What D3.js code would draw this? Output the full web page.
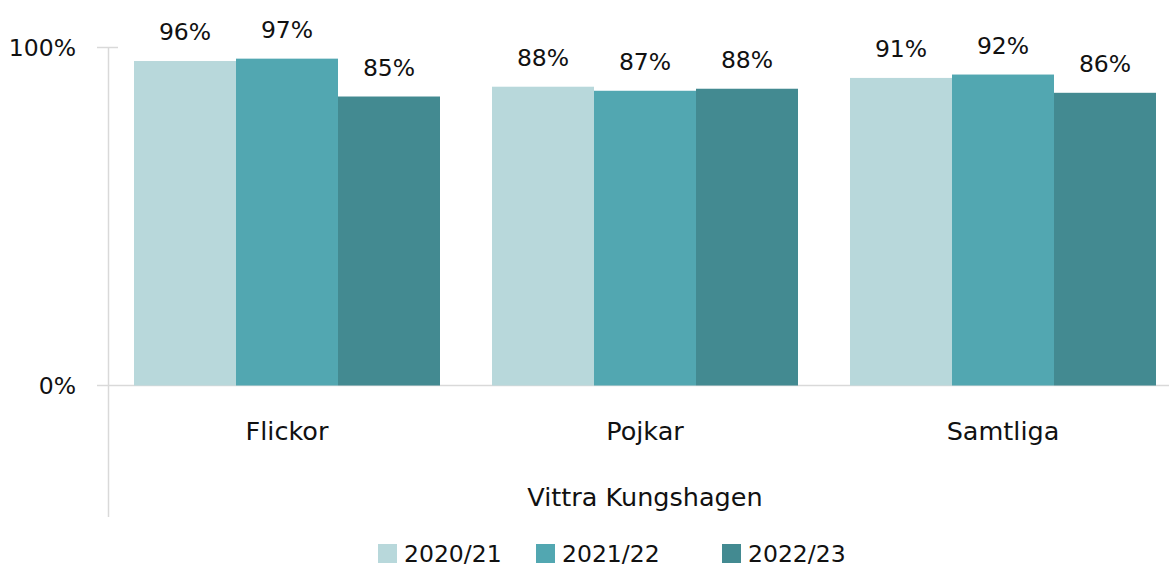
<!DOCTYPE html>
<html><head><meta charset="utf-8">
<script src="https://cdn.jsdelivr.net/npm/d3@7"></script>
<style>body{margin:0;background:#fff}svg{display:block}text{font-family:"DejaVu Sans","Open Sans",sans-serif;fill:#111}</style>
</head><body><svg id="c" width="1169" height="567"></svg>
<script>
const categories = ["Flickor", "Pojkar", "Samtliga"];
const seriesNames = ["2020/21", "2021/22", "2022/23"];
const v2020 = [0.96, 0.884, 0.91];
const v2021 = [0.967, 0.872, 0.92];
const v2022 = [0.855, 0.878, 0.866];
const labels2020 = ["96%", "88%", "91%"];
const labels2021 = ["97%", "87%", "92%"];
const labels2022 = ["85%", "88%", "86%"];
const yTicks = [0, 1];
const yTickLabels = ["0%", "100%"];
const axisTitle = "Vittra Kungshagen";
const colors = ["#b8d8db", "#52a7b1", "#438a91"];

const series = [v2020, v2021, v2022];
const seriesLabels = [labels2020, labels2021, labels2022];
const svg = d3.select("#c");
const x0 = d3.scaleBand().domain(categories).range([108, 1182]).paddingInner(0).paddingOuter(0);
const inner = 26;
const x1 = d3.scaleBand().domain(seriesNames).range([inner, x0.bandwidth() - inner]).padding(0);
const y = d3.scaleLinear().domain([0, 1]).range([385.5, 47.5]);
const grey = "#d9d9d9";
const fs = 23.5, fw = 25.5;

svg.append("line").attr("x1", 108.5).attr("x2", 108.5).attr("y1", y(1)).attr("y2", 517).attr("stroke", grey).attr("stroke-width", 1.5);
yTicks.forEach((t, i) => {
  svg.append("line").attr("x1", 97).attr("x2", t === 0 ? 1169 : 118).attr("y1", y(t)).attr("y2", y(t)).attr("stroke", grey).attr("stroke-width", 1.5);
  svg.append("text").attr("x", 76).attr("y", y(t) + 8).attr("text-anchor", "end").attr("font-size", fs).text(yTickLabels[i]);
});

categories.forEach((c, ci) => {
  const g = svg.append("g").attr("transform", `translate(${x0(c)},0)`);
  seriesNames.forEach((s, si) => {
    const v = series[si][ci];
    g.append("rect").attr("x", x1(s)).attr("y", y(v)).attr("width", x1.bandwidth()).attr("height", y(0) - y(v)).attr("fill", colors[si]);
    g.append("text").attr("x", x1(s) + x1.bandwidth() / 2).attr("y", y(v) - 21).attr("text-anchor", "middle").attr("font-size", fs).text(seriesLabels[si][ci]);
  });
  svg.append("text").attr("x", x0(c) + x0.bandwidth() / 2).attr("y", 440).attr("text-anchor", "middle").attr("font-size", fw).text(c);
});

svg.append("text").attr("x", (x0.range()[0] + x0.range()[1]) / 2).attr("y", 506).attr("text-anchor", "middle").attr("font-size", fw).text(axisTitle);

const legX = [378, 536, 722];
seriesNames.forEach((s, i) => {
  svg.append("rect").attr("x", legX[i]).attr("y", 544).attr("width", 19).attr("height", 19).attr("fill", colors[i]);
  svg.append("text").attr("x", legX[i] + 26).attr("y", 562).attr("font-size", fs).text(s);
});
</script></body></html>
